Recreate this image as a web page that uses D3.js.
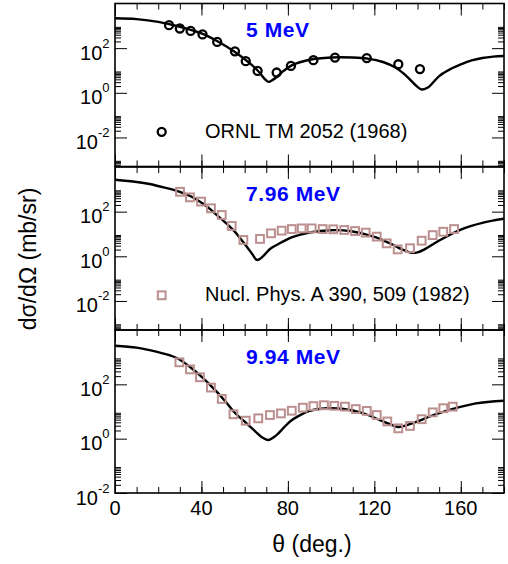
<!DOCTYPE html>
<html><head><meta charset="utf-8">
<script src="https://cdn.jsdelivr.net/npm/d3@7/dist/d3.min.js"></script>
<style>body{margin:0;background:#fff}svg{display:block;font-family:"Liberation Sans",Arial,Helvetica,sans-serif}</style>
</head><body>
<script>
// ---------- data ----------
const panelTitles = ["5 MeV", "7.96 MeV", "9.94 MeV"];
const legendLabels = ["ORNL TM 2052 (1968)", "Nucl. Phys. A 390, 509 (1982)"];
const xTickValues = [0, 40, 80, 120, 160];
const yMajorExponents = [-2, 0, 2];

// theoretical curves (theta in deg, dσ/dΩ in mb/sr)
const curve5Theta = [0,10,20,30,40,47,55,62,66,69,71,73,75,78,82,90,100,110,117,124,130,135,139,142,145,150,155,160,165,170,175,180];
const curve5Val   = [2190,2000,1510,912,457,214,72,22.4,10,4.47,3.09,3.8,5.25,9.55,17.4,30.2,38,38,33.9,24,13.2,5.5,2.24,1.41,1.78,5.6,11.2,18.6,28.2,36.3,41.7,44.7];

const curve796Theta = [0,10,16,23,30,35,39,43,47,51,55,58,61,63.5,65.6,67,69,72,75,82,90,100,110,120,128,133,137,140,143,150,160,170,180];
const curve796Val   = [2690,2140,1740,1200,776,490,295,158,71,33,14.1,6.3,2.7,1.26,0.69,0.76,1.12,2.24,3.3,7.2,11.7,14.8,12.9,7.4,3.5,2.0,1.45,1.51,2.0,5.1,15.8,31.6,47.9];

const curve994Theta = [0,10,16,23,29,35,40,47,51,55,60,65,68,71,73,75,78,81,85,90,98,105,115,124,128,131,134,140,147,156,167,180];
const curve994Val   = [2630,2240,1820,1320,891,417,191,54,24,9.8,4.2,1.82,1.12,0.89,1.07,1.41,2.5,4.3,6.9,10.5,13.2,12.6,8.5,4.3,3.2,2.7,2.95,4.3,7.2,12.3,20,25];

// experimental data
const exp5Theta = [25,30,35,40.5,47.3,55.5,60.5,66,74.8,81.4,91.8,101.8,116.5,131.1,141.1];
const exp5Val   = [1070,760,590,410,190,72,26,9.5,8.1,16,29,38,36,19,11.5];

const exp796Theta = [30.1,34.7,39.8,44.4,49.4,54.0,59.4,67.1,72.2,77.1,81.8,86.4,91.0,96.1,101.0,106.1,111.1,116.0,121.1,125.7,130.8,136.5,141.9,147.0,151.9,156.9];
const exp796Val   = [776,437,282,141,71,22.9,5.4,6.0,10.7,14.1,16.6,17.8,17.8,16.6,16.2,15.1,13.5,11.5,7.6,3.8,2.04,2.29,5.0,8.9,12.6,16.6];

const exp994Theta = [29.8,34.7,39.3,44.4,49.4,54.8,60.5,66.3,71.7,76.8,81.8,86.9,91.8,96.7,101.5,106.4,111.4,116.5,121.1,126.0,131.1,136.5,141.9,147.0,151.9,156.3];
const exp994Val   = [646,355,182,76,29,7.9,4.6,5.6,7.4,8.5,10.7,13.8,15.8,17,16.2,15.1,12.3,10.5,7.4,4.3,2.4,2.95,5.2,9.3,13.2,15.1];

// ---------- layout ----------
const W = 508, H = 564;
const x0 = 115, x1 = 504;
const panelTop = [3.5, 167, 330];
const panelH = 163;
const panelDomains = [[5e-4, 1e4], [5e-4, 1e4], [1e-2, 1e4]];

const panels = [
  {title: panelTitles[0], cT: curve5Theta, cV: curve5Val, eT: exp5Theta, eV: exp5Val, sym: "circle", legend: legendLabels[0]},
  {title: panelTitles[1], cT: curve796Theta, cV: curve796Val, eT: exp796Theta, eV: exp796Val, sym: "square", legend: legendLabels[1]},
  {title: panelTitles[2], cT: curve994Theta, cV: curve994Val, eT: exp994Theta, eV: exp994Val, sym: "square", legend: null}
];

const svg = d3.select("body").append("svg").attr("width", W).attr("height", H);
const x = d3.scaleLinear().domain([0, 180]).range([x0, x1]);
const xMinor = d3.range(0, 181, 10);
const symColor = {circle: "#000", square: "#bc8f8f"};

panels.forEach((p, i) => {
  const top = panelTop[i], bot = top + panelH;
  const y = d3.scaleLog().domain(panelDomains[i]).range([bot, top]);
  const g = svg.append("g");
  const cid = "clip" + i;
  svg.append("clipPath").attr("id", cid).append("rect")
    .attr("x", x0).attr("y", top).attr("width", x1 - x0).attr("height", panelH);

  const [d0, d1] = panelDomains[i];
  const minors = [];
  [-4, -2, 0, 2].forEach(e => { for (let k = 2; k <= 9; k++) { const v = k * Math.pow(10, e); if (v > d0 && v < d1) minors.push(v); } });
  const majors = yMajorExponents.map(e => Math.pow(10, e)).filter(v => v >= d0 && v <= d1);

  const tickStyle = sel => { sel.select(".domain").remove(); sel.selectAll("line").attr("stroke", "#000").attr("stroke-width", 1); };
  g.append("g").attr("transform", `translate(${x0},0)`).call(d3.axisLeft(y).tickValues(majors).tickSize(-12).tickFormat("")).call(tickStyle);
  g.append("g").attr("transform", `translate(${x0},0)`).call(d3.axisLeft(y).tickValues(minors).tickSize(-6).tickFormat("")).call(tickStyle);
  g.append("g").attr("transform", `translate(${x1},0)`).call(d3.axisRight(y).tickValues(majors).tickSize(-12).tickFormat("")).call(tickStyle);
  g.append("g").attr("transform", `translate(${x1},0)`).call(d3.axisRight(y).tickValues(minors).tickSize(-6).tickFormat("")).call(tickStyle);
  g.append("g").attr("transform", `translate(0,${bot})`).call(d3.axisBottom(x).tickValues(xTickValues).tickSize(-12).tickFormat("")).call(tickStyle);
  g.append("g").attr("transform", `translate(0,${bot})`).call(d3.axisBottom(x).tickValues(xMinor).tickSize(-6).tickFormat("")).call(tickStyle);
  g.append("g").attr("transform", `translate(0,${top})`).call(d3.axisTop(x).tickValues(xTickValues).tickSize(-12).tickFormat("")).call(tickStyle);
  g.append("g").attr("transform", `translate(0,${top})`).call(d3.axisTop(x).tickValues(xMinor).tickSize(-6).tickFormat("")).call(tickStyle);

  majors.forEach(v => {
    const e = Math.round(Math.log10(v));
    const t = g.append("text").attr("x", 109.5).attr("y", y(v) + 11.5)
      .attr("text-anchor", "end").attr("font-size", 20).attr("fill", "#000");
    t.append("tspan").text("10");
    t.append("tspan").attr("font-size", 13).attr("dy", -12).text(String(e));
  });

  const line = d3.line().x(d => x(d[0])).y(d => y(d[1])).curve(d3.curveCatmullRom.alpha(0.5));
  g.append("path").datum(p.cT.map((t, j) => [t, p.cV[j]]))
    .attr("clip-path", `url(#${cid})`)
    .attr("d", line).attr("fill", "none").attr("stroke", "#000").attr("stroke-width", 2.4);

  const pts = p.eT.map((t, j) => [t, p.eV[j]]);
  const drawSym = (sel, sym) => {
    if (sym === "circle") {
      sel.append("circle").attr("r", 4).attr("fill", "none").attr("stroke", symColor.circle).attr("stroke-width", 2.3);
    } else {
      sel.append("rect").attr("x", -3.9).attr("y", -3.9).attr("width", 7.8).attr("height", 7.8)
        .attr("fill", "none").attr("stroke", symColor.square).attr("stroke-width", 2);
    }
  };
  g.selectAll(".pt").data(pts).enter().append("g").attr("class", "pt")
    .attr("transform", d => `translate(${x(d[0])},${y(d[1])})`)
    .each(function () { drawSym(d3.select(this), p.sym); });

  g.append("rect").attr("x", x0).attr("y", top).attr("width", x1 - x0).attr("height", panelH)
    .attr("fill", "none").attr("stroke", "#000").attr("stroke-width", 1.6);

  g.append("text").attr("x", 246).attr("y", top + 33.5).attr("font-size", 21).attr("font-weight", "bold")
    .attr("letter-spacing", 0.6).attr("fill", "#0000ff").text(p.title);

  if (p.legend) {
    const ly = top + 128.3;
    const s = g.append("g").attr("transform", `translate(161.7,${ly})`);
    drawSym(s, p.sym);
    g.append("text").attr("x", 205).attr("y", ly + 5.8).attr("font-size", 20).attr("fill", "#000").text(p.legend);
  }

  if (i === panels.length - 1) {
    xTickValues.forEach(v => {
      g.append("text").attr("x", x(v)).attr("y", bot + 22).attr("text-anchor", "middle")
        .attr("font-size", 20).attr("fill", "#000").text(String(v));
    });
  }
});

svg.append("text").attr("transform", "translate(36,259) rotate(-90)").attr("text-anchor", "middle")
  .attr("font-size", 23).attr("fill", "#000").text("dσ/dΩ (mb/sr)");
svg.append("text").attr("x", 312).attr("y", 552).attr("text-anchor", "middle")
  .attr("font-size", 23).attr("fill", "#000").text("θ (deg.)");
</script>
</body></html>
